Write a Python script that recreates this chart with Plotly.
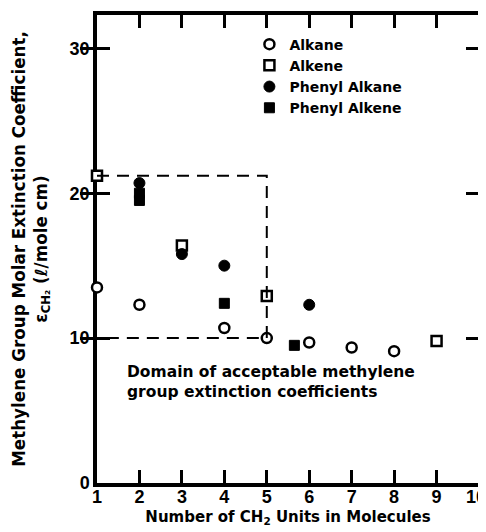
import plotly.graph_objects as go

# Data
alkane_x = [1, 2, 4, 5, 6, 7, 8]
alkane_y = [13.5, 12.3, 10.7, 10.0, 9.7, 9.35, 9.1]

alkene_x = [1, 3, 5, 9]
alkene_y = [21.2, 16.4, 12.9, 9.8]

ph_alkane_x = [2, 3, 4, 6]
ph_alkane_y = [20.7, 15.8, 15.0, 12.3]

ph_alkene_x = [2, 2, 4, 5.65]
ph_alkene_y = [20.0, 19.5, 12.4, 9.5]

domain_x = [1, 5, 5, 1]
domain_y = [21.2, 21.2, 10, 10]

x_ticks = [1, 2, 3, 4, 5, 6, 7, 8, 9, 10]
x_ticktext = ["1", "2", "3", "4", "5", "6", "7", "8", "9", "10"]
y_ticks = [0, 10, 20, 30]
y_ticktext = ["0", "10", "20", "30"]

x_range = [1, 10]
y_range = [0, 32.3]

TICKFONT = "Liberation Sans"
FONT = "DejaVu Sans"

fig = go.Figure()

# dashed "domain" box (on an overlaid axis with the same range; that axis only labels the last tick)
fig.add_trace(go.Scatter(
    x=domain_x, y=domain_y, mode="lines", showlegend=False, xaxis="x2",
    line=dict(color="black", width=2, dash="12px,8px"), hoverinfo="skip"))

fig.add_trace(go.Scatter(
    x=alkane_x, y=alkane_y, mode="markers", name="Alkane", cliponaxis=False,
    marker=dict(symbol="circle", size=10, color="white",
                line=dict(color="black", width=2.5))))
fig.add_trace(go.Scatter(
    x=alkene_x, y=alkene_y, mode="markers", name="Alkene", cliponaxis=False,
    marker=dict(symbol="square", size=10, color="white",
                line=dict(color="black", width=2.5))))
fig.add_trace(go.Scatter(
    x=ph_alkane_x, y=ph_alkane_y, mode="markers", name="Phenyl Alkane", cliponaxis=False,
    marker=dict(symbol="circle", size=11, color="black",
                line=dict(color="black", width=1))))
fig.add_trace(go.Scatter(
    x=ph_alkene_x, y=ph_alkene_y, mode="markers", name="Phenyl Alkene", cliponaxis=False,
    marker=dict(symbol="square", size=10, color="black",
                line=dict(color="black", width=1))))

fig.add_annotation(
    x=1.65, y=7.0, xref="x", yref="y", xanchor="left", yanchor="middle",
    text="Domain of acceptable methylene<br>group extinction coefficients",
    showarrow=False, align="left",
    font=dict(family=FONT, size=15.5, color="black", weight="bold"))

tickfont = dict(family=TICKFONT, size=18, color="black", weight="bold")

axis_common = dict(
    showgrid=False, zeroline=False, showline=True, linecolor="black",
    linewidth=3.5, mirror="allticks", ticks="inside", ticklen=13,
    tickwidth=2.5, tickcolor="black", layer="below traces",
    ticklabeloverflow="allow", tickfont=tickfont,
)

# The page body adds an 8 px offset; the figure is sized to fit inside it.
fig.update_layout(
    width=478, height=524,
    margin=dict(l=89, r=7, t=7, b=49, autoexpand=False),
    plot_bgcolor="white", paper_bgcolor="white",
    font=dict(family=FONT, color="black"),
    xaxis=dict(
        range=x_range, tickmode="array", tickvals=x_ticks,
        ticktext=x_ticktext[:-1] + [""], ticklabelstandoff=-5,
        title=dict(text="Number of CH<sub>2</sub> Units in Molecules",
                   font=dict(family=FONT, size=15, color="black", weight="bold"),
                   standoff=6),
        **axis_common),
    yaxis=dict(
        range=y_range, tickmode="array", tickvals=y_ticks,
        ticktext=y_ticktext,
        title=dict(text="Methylene Group Molar Extinction Coefficient,<br>ε<sub>CH₂</sub> (ℓ/mole cm)",
                   font=dict(family=FONT, size=16.75, color="black", weight="bold"),
                   standoff=19),
        **axis_common),
    xaxis2=dict(overlaying="x", anchor="y", side="bottom", range=x_range,
                tickmode="array", tickvals=x_ticks[-1:], ticktext=x_ticktext[-1:],
                showgrid=False, zeroline=False, showline=False, ticks="",
                ticklabelstandoff=1, ticklabelshift=-3,
                ticklabeloverflow="allow", tickfont=tickfont),
    legend=dict(x=0.399, y=0.971, xanchor="left", yanchor="top",
                bgcolor="rgba(0,0,0,0)", tracegroupgap=0, itemwidth=30,
                font=dict(family=FONT, size=14, color="black", weight="bold")),
)

fig.write_html("out.html")
